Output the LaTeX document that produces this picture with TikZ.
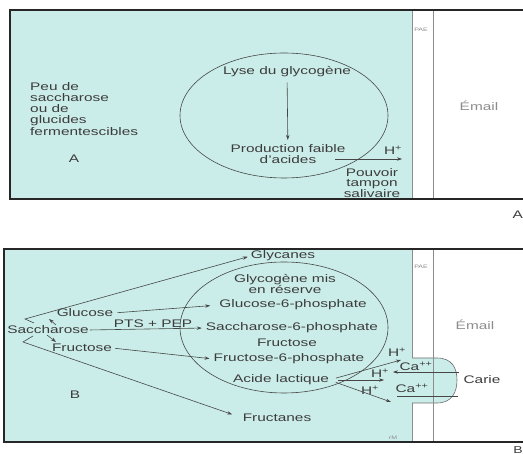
\documentclass[tikz,border=0pt]{standalone}
\usepackage{fontspec}
\setmainfont{Liberation Sans}[FakeStretch=1.4]
\usetikzlibrary{arrows.meta}
\definecolor{cyanbg}{RGB}{203,237,233}
\definecolor{lncol}{RGB}{70,70,70}
\definecolor{txcol}{RGB}{60,60,60}
\definecolor{ltcol}{RGB}{140,140,140}
\begin{document}
\begin{tikzpicture}[x=1pt,y=-1pt,
  lbl/.style={inner sep=0pt,text=txcol,font=\fontsize{11}{11.3}\selectfont},
  lightlbl/.style={inner sep=0pt,text=ltcol,font=\fontsize{11}{11.3}\selectfont},
  tiny/.style={inner sep=0pt,text=ltcol,font=\fontsize{5}{5}\selectfont},
  arr/.style={draw=lncol,line width=0.6pt,-{Stealth[length=5pt,width=3.4pt]}},
  thinln/.style={draw=lncol,line width=0.6pt},
  sep/.style={draw=ltcol,line width=0.9pt},
  frame/.style={draw=black!85,line width=1.1pt}]
\useasboundingbox (0,0) rectangle (523,454);
% ================= panel A =================
\fill[cyanbg] (10,10) rectangle (412,199);
\draw[sep] (412,10) -- (412,199);
\draw[sep] (433,10) -- (433,199);
\draw[frame] (523,10) -- (10,10) -- (10,199) -- (523,199);
\draw[thinln] (284,115.5) ellipse [x radius=104, y radius=62.5];
\node[lbl] (lyse) at (287,72) {Lyse du glycogène};
\node[lbl,anchor=north,align=center] (prod) at (288,144) {Production faible\\d'acides};
\draw[arr,shorten <=5pt,shorten >=4pt] (lyse) -- (prod);
\coordinate (hAs) at (335,159);
\coordinate (hAt) at (402,159);
\draw[arr] (hAs) -- (hAt);
\node[lbl] (hA) at (393,150) {H\textsuperscript{+}};
\node[lbl,anchor=north,align=center,font=\fontsize{11}{10.5}\selectfont] (pouv) at (372,168) {Pouvoir\\tampon\\salivaire};
\node[lbl,anchor=north west,align=left,font=\fontsize{11}{11.25}\selectfont] (peu) at (30,82) {Peu de\\saccharose\\ou de\\glucides\\fermentescibles};
\node[lbl] (labA) at (74,159) {A};
\node[lightlbl] (emailA) at (479,106) {Émail};
\node[tiny] (paeA) at (421,30) {PAE};
\node[lbl,anchor=east] (cutA) at (523,215) {A};
% ================= panel B =================
\fill[cyanbg] (4,249) rectangle (412,442);
\draw[sep] (412,249) -- (412,442);
\draw[sep] (433,249) -- (433,442);
% carie bump
\draw[draw=lncol!80,line width=0.6pt,fill=cyanbg] (412,358) -- (437,358) .. controls (452,358) and (457,368) .. (457,380) .. controls (457,392) and (452,403) .. (437,403) -- (412,403);
\draw[sep] (433,355) -- (433,406);
\draw[frame] (523,249) -- (4,249) -- (4,442) -- (523,442);
\draw[thinln] (284,327.5) ellipse [x radius=104, y radius=65.5];
% nodes
\node[lbl] (gly) at (283,256) {Glycanes};
\node[lbl,anchor=north,align=center] (glyres) at (285,274) {Glycogène mis\\en réserve};
\node[lbl] (g6p) at (293,305) {Glucose-6-phosphate};
\node[lbl] (s6p) at (292,328) {Saccharose-6-phosphate};
\node[lbl] (fruin) at (287,343) {Fructose};
\node[lbl] (f6p) at (289,359) {Fructose-6-phosphate};
\node[lbl] (al) at (281,380) {Acide lactique};
\node[lbl] (frn) at (277,418) {Fructanes};
\node[lbl] (labB) at (75,395) {B};
\node[lbl] (sac) at (48,330) {Saccharose};
\node[lbl] (glu) at (85,313) {Glucose};
\node[lbl] (fru) at (82,348) {Fructose};
\node[lbl] (pts) at (153,324) {PTS + PEP};
\node[lightlbl] (emailB) at (475,325) {Émail};
\node[lbl] (carie) at (482,380) {Carie};
\node[tiny] (paeB) at (421,267) {PAE};
\node[tiny] (rm) at (393,438) {rM};
\node[lbl] (h1) at (397,352) {H\textsuperscript{+}};
\node[lbl] (h2) at (380,373) {H\textsuperscript{+}};
\node[lbl] (h3) at (370,390) {H\textsuperscript{+}};
\node[lbl] (ca1) at (416,366) {Ca\textsuperscript{++}};
\node[lbl] (ca2) at (412,388) {Ca\textsuperscript{++}};
\node[lbl,anchor=south east,font=\fontsize{10}{10}\selectfont] (cutB) at (523,453.5) {B};
% connectors
\coordinate (hookt) at (34,323);
\coordinate (hooka) at (25,319);
\draw[arr,shorten >=3pt] (hookt) -- (hooka) -- (gly.west);
\coordinate (hookbt) at (33,336);
\coordinate (hookba) at (23,342);
\draw[arr,shorten >=11pt] (hookbt) -- (hookba) -- (frn.west);
\draw[arr,shorten <=4pt,shorten >=9pt] (glu.east) -- (g6p.west);
\draw[arr,shorten <=1pt,shorten >=4pt] (sac.east) -- (s6p.west);
\draw[arr,shorten <=3pt,shorten >=4pt] (fru.east) -- (f6p.west);
\coordinate (sgs) at (56,325);
\coordinate (sgt) at (49,319);
\draw[arr] (sgs) -- (sgt);
\coordinate (sfs) at (47,335);
\coordinate (sft) at (56,342);
\draw[arr] (sfs) -- (sft);
\coordinate (t1) at (401,360);
\coordinate (t2) at (384,380);
\coordinate (t3) at (391,402);
\draw[arr,shorten <=7pt] (al.east) -- (t1);
\draw[arr,shorten <=9pt] (al.east) -- (t2);
\draw[arr,shorten <=7pt] (al.east) -- (t3);
\coordinate (c1s) at (459,372);
\coordinate (c1t) at (393,372);
\draw[arr] (c1s) -- (c1t);
\coordinate (c2s) at (458,396);
\coordinate (c2t) at (397,396);
\draw[thinln] (c2s) -- (c2t);
\end{tikzpicture}
\end{document}
